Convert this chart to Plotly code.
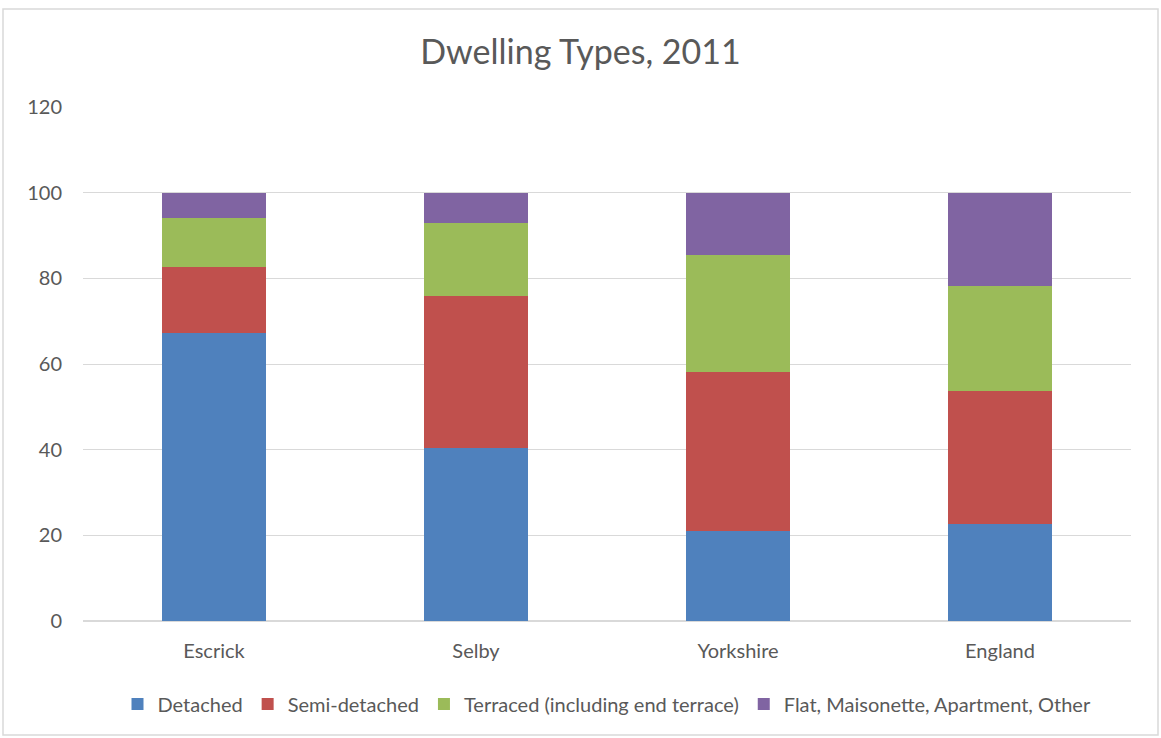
import plotly.graph_objects as go

# Dwelling type shares (%) by area, 2011
areas = ["Escrick", "Selby", "Yorkshire", "England"]
detached = [67.3, 40.4, 21.1, 22.6]
semi_detached = [15.3, 35.4, 37.0, 31.0]
terraced = [11.6, 17.1, 27.4, 24.5]
flat_other = [5.8, 7.1, 14.5, 21.9]

series_names = [
    "Detached",
    "Semi-detached",
    "Terraced (including end terrace)",
    "Flat, Maisonette, Apartment, Other",
]
series_values = [detached, semi_detached, terraced, flat_other]
colors = ["#4F81BD", "#C0504D", "#9BBB59", "#8064A2"]

FONT = "Lato"
TEXT = "#595959"

W, H = 1161, 738
ML, MR, MT, MB = 83, 30, 107, 117

fig = go.Figure()
for name, vals, col in zip(series_names, series_values, colors):
    fig.add_trace(go.Bar(
        x=areas, y=vals, name=name,
        marker=dict(color=col, line=dict(width=0)),
    ))

pw = W - ML - MR
ph = H - MT - MB

fig.update_layout(
    width=W, height=H,
    barmode="stack", bargap=0.6,
    paper_bgcolor="white", plot_bgcolor="white",
    margin=dict(l=ML, r=MR, t=MT, b=MB, autoexpand=False),
    font=dict(family=FONT, color=TEXT, size=20),
    title=dict(text="Dwelling Types, 2011", x=0.5, xanchor="center",
               y=1 - 52 / H, yanchor="middle",
               font=dict(family=FONT, size=34, color=TEXT)),
    legend=dict(orientation="h", x=0.5, xanchor="center",
                y=-(704 - (H - MB)) / ph, yanchor="middle",
                font=dict(family=FONT, size=20, color=TEXT),
                traceorder="normal", itemwidth=30),
    xaxis=dict(showgrid=False, showline=True, linecolor="#D9D9D9",
               ticks="", ticklabelstandoff=12,
               tickfont=dict(size=20, color=TEXT)),
    yaxis=dict(range=[0, 120], dtick=20, showgrid=True, gridcolor="#D9D9D9",
               gridwidth=1, zeroline=True, zerolinecolor="#D9D9D9",
               showline=False, ticks="", ticklabelstandoff=20,
               tickfont=dict(size=20, color=TEXT)),
    shapes=[dict(type="rect", xref="paper", yref="paper",
                 x0=(3 - ML) / pw, x1=(W - 3 - ML) / pw,
                 y0=(H - MB - (H - 3)) / ph, y1=(H - MB - 9) / ph,
                 line=dict(color="#D9D9D9", width=1.5), fillcolor="rgba(0,0,0,0)",
                 layer="below")],
)

fig.write_html("out.html")
